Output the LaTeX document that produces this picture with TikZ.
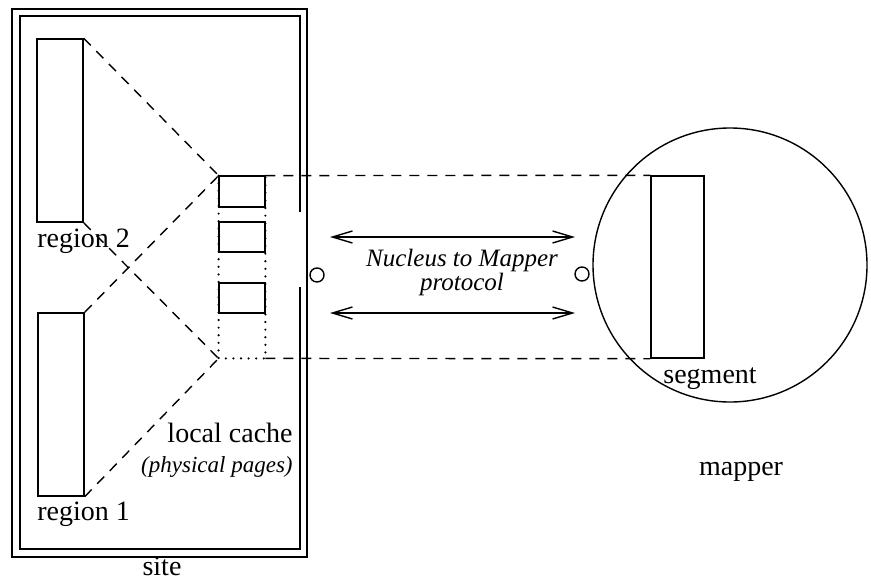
\documentclass[tikz,border=0pt]{standalone}
\usepackage{fontspec}
\setmainfont{Liberation Serif}
\usetikzlibrary{arrows.meta}

\tikzset{
    box/.style={draw, line width=0.7pt, inner sep=0pt, minimum width=23pt},
    link/.style={line width=0.7pt, dash pattern=on 5pt off 4pt},
    dotline/.style={line width=1.2pt, line cap=round, dash pattern=on 0pt off 3.8pt},
    port/.style={draw, circle, line width=0.7pt, inner sep=0pt, minimum size=7pt},
    proto/.style={line width=0.7pt, {Straight Barb[length=10pt,width=6pt]}-{Straight Barb[length=10pt,width=6pt]}},
    lbl/.style={inner sep=0pt, font=\fontsize{14}{16}\selectfont},
}

\begin{document}
\begin{tikzpicture}[x=0.5pt, y=-0.5pt]
            \useasboundingbox (0,0) rectangle (871,578);

            % site: double frame, inner one open next to the port
            \draw[line width=0.7pt] (12,9) rectangle (307,557);
            \draw[line width=0.7pt] (300,212) -- (300,16) -- (20,16) -- (20,549) -- (300,549) -- (300,287);

            \node [box, minimum height=91.5pt] (R2) at (60,130.5) {};
            \node [box, minimum height=91.5pt] (R1) at (61,404.5) {};

            % local cache and its pages
            \node [inner sep=0pt, minimum width=23pt, minimum height=91pt] (C) at (242,267) {};
            \draw[dotline] (C.north west) -- (C.south west) -- (C.south east) -- (C.north east);
            \node [box, minimum height=15.5pt] (P1) at (242,191.5) {};
            \node [box, minimum height=15pt] (P2) at (242,237) {};
            \node [box, minimum height=15pt] (P3) at (242,298) {};

            % mapper and its segment
            \node [draw, circle, line width=0.7pt, inner sep=0pt, minimum size=137pt] (M) at (730,265) {};
            \node [box, minimum width=26.5pt, minimum height=91pt] (S) at (677.5,267) {};

            \node [port] (Np) at (317,275) {};
            \node [port] (Mp) at (582,274) {};

            \draw[link] (R2.north east) -- (C.north west);
            \draw[link] (R2.south east) -- (C.south west);
            \draw[link] (R1.north east) -- (C.north west);
            \draw[link] (R1.south east) -- (C.south west);
            \draw[link] (C.north east) -- (S.north west);
            \draw[link] (C.south east) -- (S.south west);

            \coordinate (A1) at (330,237);
            \coordinate (B1) at (575,237);
            \coordinate (A2) at (330,313);
            \coordinate (B2) at (575,313);
            \draw[proto] (A1) -- (B1);
            \draw[proto] (A2) -- (B2);

            \node [lbl, anchor=base west] (R2l) at (37,247) {region 2};
            \node [lbl, anchor=base west] (R1l) at (37,520) {region 1};
            \node [lbl, anchor=base east] (Cl) at (293,442) {local cache};
            \node [inner sep=0pt, anchor=base east, font=\fontsize{11.5}{13}\selectfont\itshape] (Cp) at (293,472) {(physical pages)};
            \node [lbl, anchor=base] (Sitel) at (162,575) {site};
            \node [lbl, anchor=base west] (Sl) at (663,383) {segment};
            \node [lbl, anchor=base] (Ml) at (741,475) {mapper};
            \node [inner sep=0pt, anchor=base, align=center, font=\fontsize{12.5}{12}\selectfont\itshape] (Pl) at (462,290) {Nucleus to Mapper\\protocol};
        \end{tikzpicture}
\end{document}
